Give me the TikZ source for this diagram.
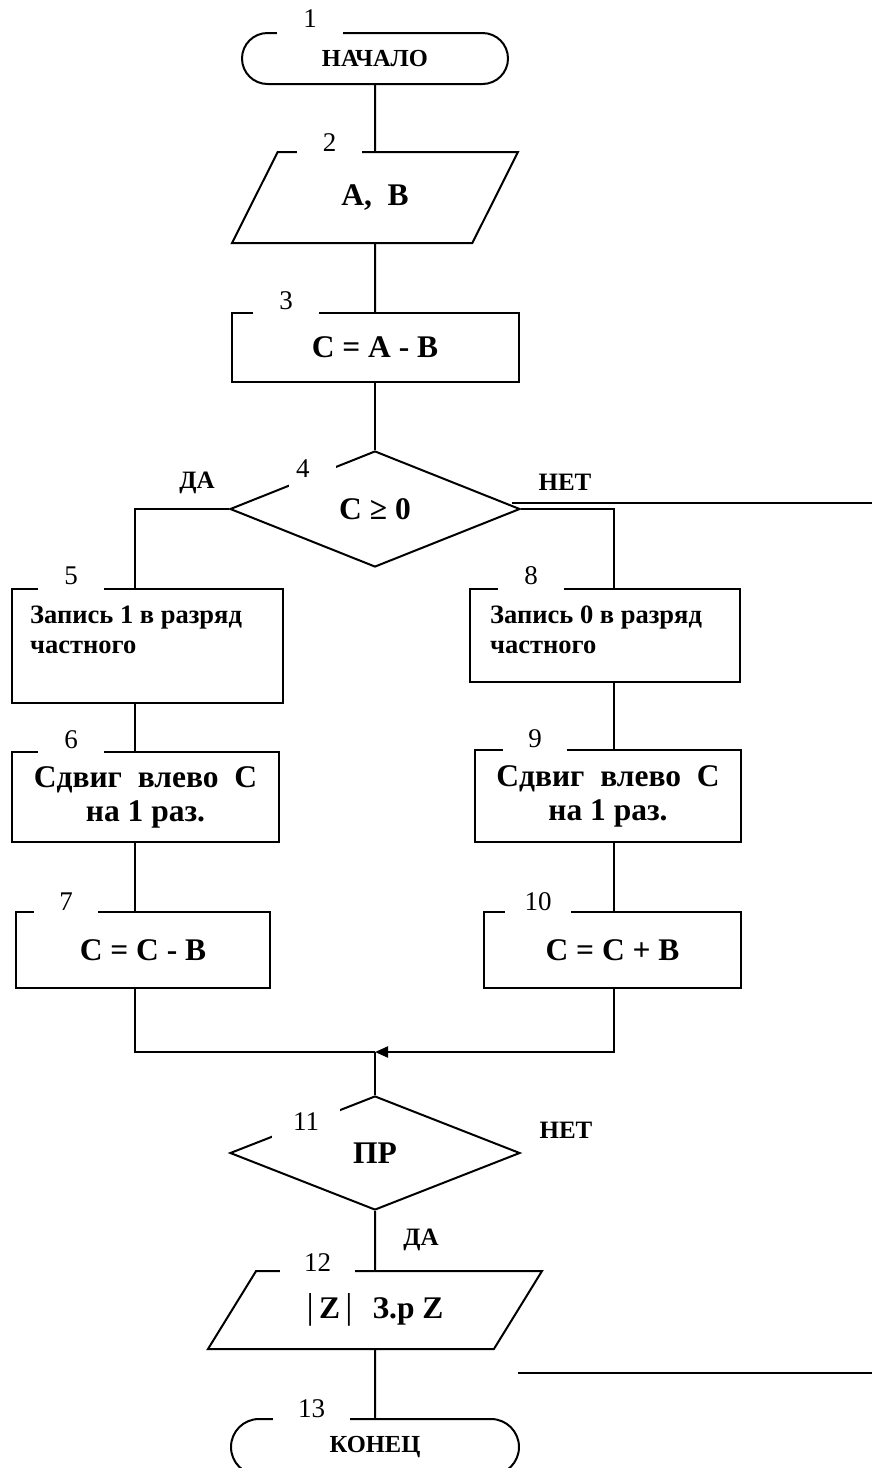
\documentclass[tikz,border=0pt]{standalone}
\usepackage{fontspec}
\setmainfont{Liberation Serif}
\usetikzlibrary{shapes.geometric,shapes.misc,arrows.meta,calc}
\begin{document}
\begin{tikzpicture}[x=1pt,y=-1pt,
  ln/.style={line width=2pt},
  shp/.style={draw, line width=2pt, inner sep=0pt},
  term/.style={shp, rounded rectangle, font=\bfseries\fontsize{24.5}{24.5}\selectfont},
  io/.style={shp, trapezium, trapezium stretches=true},
  proc/.style={shp, rectangle},
  dec/.style={shp, diamond},
  big/.style={font=\bfseries\fontsize{31.5}{34}\selectfont, align=center},
  mid/.style={font=\bfseries\fontsize{26.5}{30}\selectfont, align=left, inner sep=0pt},
  lab/.style={font=\bfseries\fontsize{25}{25}\selectfont},
  num/.style={fill=white, inner sep=0pt, font=\fontsize{27}{27}\selectfont},
]
\useasboundingbox (0,0) rectangle (872,1468);
\clip (0,0) rectangle (872,1468);
\fill[white] (0,0) rectangle (872,1468);

% blocks
\node[term, minimum width=266pt, minimum height=51pt] (b1) at (375,58.5) {\raisebox{-6pt}{НАЧАЛО}};
\node[io, trapezium left angle=58.4, trapezium right angle=121.6, minimum width=286pt, minimum height=91pt, big] (b2) at (375,197.5) {A,\ \ B};
\node[proc, minimum width=287pt, minimum height=69pt, big] (b3) at (375,347.5) {C = A - B};
\node[dec, minimum width=290pt, minimum height=116pt, big] (d4) at (375,509) {C ≥ 0};
\node[proc, minimum width=271pt, minimum height=114pt] (b5) at (147.5,646) {};
\node[mid, anchor=north west] (t5) at (30,606) {Запись 1 в разряд\\частного};
\node[proc, minimum width=267pt, minimum height=90pt, big] (b6) at (145.5,797) {Сдвиг\ \ влево\ \ С\\на 1 раз.};
\node[proc, minimum width=254pt, minimum height=76pt, big] (b7) at (143,950) {C = C - B};
\node[proc, minimum width=270pt, minimum height=93pt] (b8) at (605,635.5) {};
\node[mid, anchor=north west] (t8) at (490,606) {Запись 0 в разряд\\частного};
\node[proc, minimum width=266pt, minimum height=92pt, big] (b9) at (608,796) {Сдвиг\ \ влево\ \ С\\на 1 раз.};
\node[proc, minimum width=257pt, minimum height=76pt, big] (b10) at (612.5,950) {C = C + B};
\node[dec, minimum width=290pt, minimum height=114pt, big] (d11) at (375,1153) {ПР};
\node[io, trapezium left angle=49.8, trapezium right angle=130.2, minimum width=335pt, minimum height=78pt, big] (b12) at (375,1310) {{\mdseries\fontsize{36}{36}\selectfont|}\,Z\,{\mdseries\fontsize{36}{36}\selectfont|}\hspace{20pt}З.р Z};
\node[term, minimum width=288pt, minimum height=56pt] (b13) at (375,1447) {КОНЕЦ};

% connectors
\coordinate (L) at (135,0);
\coordinate (R) at (614,0);
\coordinate (j) at (375,1052);
\draw[ln] (b1.south) -- (b2.north);
\draw[ln] (b2.south) -- (b3.north);
\draw[ln] (b3.south) -- (d4.north);
\draw[ln] (d4.west) -| (b5.north -| L);
\draw[ln] (b5.south -| L) -- (b6.north -| L);
\draw[ln] (b6.south -| L) -- (b7.north -| L);
\draw[ln] (b7.south -| L) |- (j);
\draw[ln] (d4.east) -| (b8.north -| R);
\draw[ln] (b8.south -| R) -- (b9.north -| R);
\draw[ln] (b9.south -| R) -- (b10.north -| R);
\draw[ln, -{Triangle[length=13pt,width=11pt]}] (b10.south -| R) |- (j);
\draw[ln] (j) -- (d11.north);
\draw[ln] (d11.south) -- (b12.north);
\draw[ln] (b12.south) -- (b13.north);

\coordinate (o1) at (512,503);
\coordinate (o2) at (872,503);
\draw[ln] (o1) -- (o2);
\coordinate (o3) at (518,1373);
\coordinate (o4) at (872,1373);
\draw[line width=1.6pt] (o3) -- (o4);

% branch labels
\node[lab] (da1) at (197,483) {ДА};
\node[lab] (net1) at (565,482) {НЕТ};
\node[lab] (net2) at (566,1130) {НЕТ};
\node[lab] (da2) at (421,1240) {ДА};

% block numbers
\node[num, minimum width=66pt, minimum height=36pt] (n1) at (310,19) {1};
\node[num, minimum width=65pt, minimum height=24pt] (n2) at (329.5,143) {2};
\node[num, minimum width=66pt, minimum height=28pt] (n3) at (286,301) {3};
\node[num, minimum height=40pt, text width=33pt, inner xsep=7pt, align=left] (n4) at (312.5,469) {4};
\node[num, minimum width=66pt, minimum height=30pt] (n5) at (71,576) {5};
\node[num, minimum width=66pt, minimum height=26pt] (n6) at (71,740) {6};
\node[num, minimum width=64pt, minimum height=22pt] (n7) at (66,902) {7};
\node[num, minimum width=66pt, minimum height=30pt] (n8) at (531,576) {8};
\node[num, minimum width=64pt, minimum height=26pt] (n9) at (535,739) {9};
\node[num, minimum width=66pt, minimum height=22pt] (n10) at (538,902) {10};
\node[num, minimum width=68pt, minimum height=34pt] (n11) at (306,1122) {11};
\node[num, minimum width=75pt, minimum height=20pt] (n12) at (317.5,1263) {12};
\node[num, minimum width=77pt, minimum height=24pt] (n13) at (311.5,1409) {13};
\end{tikzpicture}
\end{document}
